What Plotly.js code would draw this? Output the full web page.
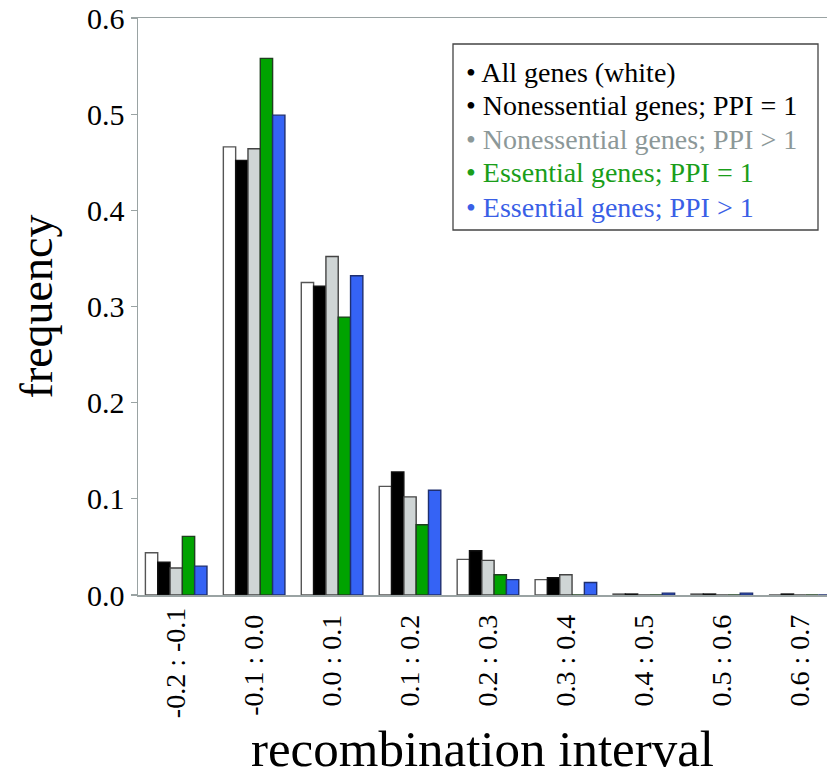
<!DOCTYPE html>
<html>
<head>
<meta charset="utf-8">
<script src="https://cdn.plot.ly/plotly-3.0.1.min.js"></script>
<style>html,body{margin:0;padding:0;background:#fff;}#chart{width:827px;height:777px;}</style>
</head>
<body>
<div id="chart"></div>
<script>
// ---- data ----
const categories = ["-0.2 : -0.1", "-0.1 : 0.0", "0.0 : 0.1", "0.1 : 0.2", "0.2 : 0.3", "0.3 : 0.4", "0.4 : 0.5", "0.5 : 0.6", "0.6 : 0.7"];
const seriesNames = ["All genes (white)", "Nonessential genes; PPI = 1", "Nonessential genes; PPI > 1", "Essential genes; PPI = 1", "Essential genes; PPI > 1"];
const allGenes      = [0.044, 0.466, 0.325, 0.113, 0.037, 0.016, 0.001, 0.001, 0.000];
const nonessPPI1    = [0.034, 0.452, 0.321, 0.128, 0.046, 0.018, 0.001, 0.001, 0.001];
const nonessPPIgt1  = [0.028, 0.464, 0.352, 0.102, 0.036, 0.021, 0.000, 0.000, 0.000];
const essPPI1       = [0.061, 0.558, 0.289, 0.073, 0.021, 0.000, 0.000, 0.000, 0.000];
const essPPIgt1     = [0.030, 0.499, 0.332, 0.109, 0.016, 0.013, 0.002, 0.002, 0.000];
const yTicks = [0, 0.1, 0.2, 0.3, 0.4, 0.5, 0.6];

// ---- styles ----
const barColors  = ["#ffffff", "#000000", "#cfd5d5", "#00a300", "#3563f5"];
const lineColors = ["#555555", "#111111", "#444444", "#1f3f1f", "#1f2f6f"];
const textColors = ["#000000", "#000000", "#8c9898", "#1a9e1a", "#3a5fe6"];
const serif = "Liberation Serif, Times New Roman, serif";
const seriesValues = [allGenes, nonessPPI1, nonessPPIgt1, essPPI1, essPPIgt1];

const idx = categories.map((c, i) => i);
const tickText = categories.map(c => (c.split("-").length - 1) >= 2 ? c : c + "\u00A0");

const traces = seriesValues.map((vals, k) => ({
  type: "bar",
  x: idx,
  y: vals,
  name: seriesNames[k],
  marker: { color: barColors[k], line: { color: lineColors[k], width: 1.4 } },
  showlegend: false,
  hoverinfo: "skip"
}));

// legend box drawn as annotations
const legTop = 44, legBottom = 230, legLeft = 453, legRight = 818;
const plotL = 138, plotT = 18, plotW = 827 - 138, plotH = 595 - 18;
const px2x = p => (p - plotL) / plotW;
const px2y = p => 1 - (p - plotT) / plotH;
const lineYs = [73, 105.5, 139, 173, 207];
const annotations = seriesNames.map((n, k) => ({
  xref: "paper", yref: "paper",
  x: px2x(464), y: px2y(lineYs[k]),
  xanchor: "left", yanchor: "middle",
  text: "\u2022 " + n,
  showarrow: false,
  font: { family: serif, size: 28, color: textColors[k] }
}));
const shapes = [{
  type: "rect", xref: "paper", yref: "paper",
  x0: px2x(legLeft), x1: px2x(legRight), y0: px2y(legBottom), y1: px2y(legTop),
  line: { color: "#444444", width: 1.3 }, fillcolor: "rgba(0,0,0,0)"
}];

const layout = {
  width: 827, height: 777,
  margin: { l: plotL, r: 0, t: plotT, b: 777 - 595, pad: 0 },
  paper_bgcolor: "#ffffff", plot_bgcolor: "#ffffff",
  barmode: "group", bargap: 0.21, bargroupgap: 0,
  font: { family: serif, color: "#000" },
  xaxis: {
    type: "linear",
    range: [-0.49, 8.35],
    tickmode: "array", tickvals: idx, ticktext: tickText,
    tickangle: -90,
    ticks: "", showgrid: false, zeroline: false,
    showline: true, linecolor: "#9aa3a3", linewidth: 1.5, mirror: true,
    tickfont: { family: serif, size: 28, color: "#000" },
    title: { text: "recombination interval", font: { family: serif, size: 51, color: "#000" }, standoff: 14 },
    automargin: false
  },
  yaxis: {
    range: [0, 0.6],
    tickmode: "array", tickvals: yTicks, tickformat: ".1f",
    ticks: "outside", ticklen: 6, tickcolor: "#9aa3a3", tickwidth: 1.2,
    showgrid: false, zeroline: false,
    showline: true, linecolor: "#9aa3a3", linewidth: 1.5, mirror: false,
    tickfont: { family: serif, size: 30, color: "#000" },
    title: { text: "frequency", font: { family: serif, size: 46, color: "#000" }, standoff: 20 },
    automargin: false
  },
  annotations: annotations,
  shapes: shapes
};

Plotly.newPlot("chart", traces, layout, { staticPlot: true, displayModeBar: false });
</script>
</body>
</html>
